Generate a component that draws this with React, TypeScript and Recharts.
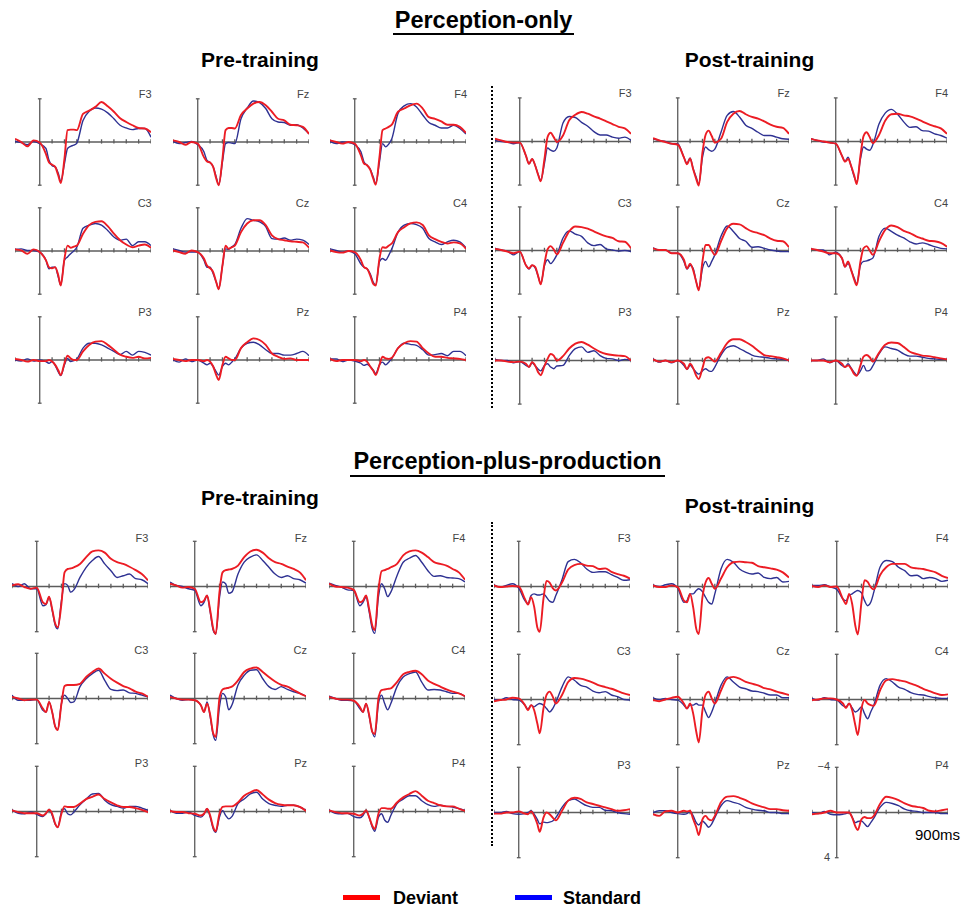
import { LineChart, Line, XAxis, YAxis, ReferenceLine } from 'recharts';

// sample times (ms) shared by every waveform
const TIMES = [-200, -150, -100, -50, 0, 50, 75, 100, 125, 150, 170, 200, 225, 250, 275, 300, 350, 400, 450, 500, 550, 600, 650, 700, 750, 800, 850, 900];
const ELECTRODES = ['F3', 'Fz', 'F4', 'C3', 'Cz', 'C4', 'P3', 'Pz', 'P4'];
const AXIS_TICKS = [-200, 100, 200, 300, 400, 500, 600, 700, 800, 900];

// amplitudes in µV (negative plotted up), one row per electrode in ELECTRODES order
// Perception-only, pre-training
const PO_PRE_DEVIANT = [
  [-0.3, 0, 0.4, -0.15, 0.05, 1.1, 1.9, 2.1, 2.3, 3.1, 3.8, 1.55, -1.1, -1.15, -1.15, -1.1, -2.6, -2.9, -3.25, -3.7, -3.3, -2.8, -2.2, -1.85, -1.55, -1.3, -1.25, -0.9],
  [-0.15, 0, 0.25, 0, 0.15, 1.4, 1.8, 1.9, 2.3, 3.4, 4.0, 1.55, -1.1, -1.3, -1.3, -1.25, -2.5, -3.1, -3.55, -3.7, -3.4, -2.8, -2.15, -2.0, -1.6, -1.55, -1.4, -0.75],
  [-0.15, 0, 0.15, 0, 0.15, 1.25, 2.0, 2.15, 2.55, 3.4, 3.95, 1.4, -1.1, -1.25, -1.4, -1.6, -2.8, -3.1, -3.4, -3.55, -3.1, -2.3, -2.15, -1.9, -1.6, -1.6, -1.4, -0.85],
  [-0.15, -0.05, 0.25, -0.15, 0.1, 0.85, 1.5, 1.6, 1.5, 2.25, 3.2, 0.7, -0.5, -0.3, -0.4, -0.5, -1.6, -2.4, -2.7, -2.75, -2.3, -1.6, -1.0, -0.6, -0.35, -0.5, -0.6, -0.3],
  [-0.05, 0.1, 0.25, -0.05, 0.1, 0.7, 1.35, 1.6, 1.95, 2.9, 3.55, 1.35, -0.5, -0.2, -0.35, -0.5, -1.75, -2.55, -2.85, -2.85, -2.4, -1.45, -1.1, -1.0, -0.9, -0.85, -0.8, -0.3],
  [-0.05, 0.1, 0.15, 0, 0.1, 0.85, 1.5, 1.65, 2.25, 3.05, 3.2, 0.7, -0.35, -0.3, -0.5, -0.7, -1.75, -2.2, -2.55, -2.65, -2.4, -1.45, -1.1, -0.85, -0.7, -0.8, -0.7, -0.2],
  [-0.1, 0, 0.15, 0, 0.1, 0.1, 0, 0.15, 0.45, 0.95, 1.4, 0.3, -0.4, -0.15, 0, 0, -0.8, -1.4, -1.7, -1.75, -1.4, -0.95, -0.5, -0.3, -0.2, -0.3, -0.15, -0.2],
  [-0.1, 0, 0.1, 0, 0, 0.1, 0, 0.15, 0.6, 1.4, 1.85, 0.45, -0.3, -0.15, 0, 0, -1.1, -1.65, -2.0, -1.85, -1.4, -0.6, -0.3, -0.1, -0.15, 0, 0, 0],
  [-0.1, 0.1, 0, 0, 0, 0.1, 0, 0.15, 0.6, 1.0, 1.4, 0.45, -0.3, -0.15, -0.1, -0.2, -1.1, -1.55, -1.75, -1.7, -1.1, -0.6, -0.3, -0.3, -0.2, -0.15, -0.1, 0],
];
const PO_PRE_STANDARD = [
  [-0.05, 0.05, 0.25, -0.05, 0.15, 0.6, 1.7, 2.2, 2.3, 2.9, 3.65, 2.0, 0.6, 0.4, 0.3, 0.1, -2.0, -2.85, -3.15, -3.05, -2.7, -2.15, -1.55, -1.3, -1.15, -1.25, -1.25, -0.45],
  [-0.05, 0.15, 0.05, -0.05, 0.25, 0.9, 1.7, 1.9, 2.3, 3.25, 3.95, 1.85, 0.15, 0.05, 0.1, 0.15, -2.15, -3.15, -3.8, -3.65, -3.1, -2.15, -1.85, -1.8, -1.55, -1.6, -1.3, -0.75],
  [-0.05, 0.15, 0, 0.05, 0.25, 0.9, 1.85, 2.15, 2.5, 3.25, 3.85, 1.85, 0.15, 0.45, 0.2, -0.3, -2.65, -3.35, -3.55, -3.25, -2.5, -1.8, -1.55, -1.3, -1.3, -1.55, -1.25, -0.75],
  [-0.15, -0.2, -0.05, -0.05, 0.1, 0.85, 1.65, 1.5, 1.5, 2.4, 3.15, 0.85, 0.55, 0.25, 0, -0.35, -2.1, -2.4, -2.55, -2.4, -1.9, -1.3, -1.0, -1.1, -0.5, -0.85, -0.85, -0.5],
  [-0.2, -0.05, 0.1, 0.1, 0.1, 0.85, 1.5, 1.5, 2.1, 2.9, 3.5, 1.35, -0.2, -0.15, -0.4, -0.6, -2.1, -3.0, -2.85, -2.7, -2.25, -1.15, -1.1, -1.2, -1.0, -1.1, -1.0, -0.6],
  [-0.2, -0.05, 0.1, 0, 0.25, 1.2, 1.5, 1.65, 2.1, 2.9, 3.15, 1.0, 0.7, 0.85, 0.4, -0.2, -1.75, -2.4, -2.55, -2.45, -2.1, -1.15, -0.85, -0.6, -0.85, -1.0, -0.85, -0.3],
  [0, 0.1, -0.1, 0.1, 0, 0.15, 0.3, 0.15, 0.5, 1.1, 1.45, 0.45, -0.15, 0.15, 0.05, -0.1, -1.1, -1.55, -1.55, -1.4, -1.1, -0.8, -0.5, -0.8, -0.45, -0.8, -0.7, -0.45],
  [0, 0.2, -0.1, 0.15, 0, 0.3, 0.45, 0.3, 0.6, 1.1, 1.4, 0.6, 0.3, 0.45, 0.2, -0.1, -1.1, -1.55, -1.65, -1.4, -0.95, -0.6, -0.6, -0.45, -0.45, -0.6, -0.8, -0.4],
  [-0.1, -0.1, 0.15, 0, 0.1, 0.3, 0.5, 0.4, 0.6, 0.95, 1.25, 0.45, 0.2, 0.45, 0.2, -0.15, -1.1, -1.55, -1.45, -1.35, -0.95, -0.45, -0.5, -0.6, -0.4, -0.8, -0.8, -0.4],
];

// Perception-only, post-training
const PO_POST_DEVIANT = [
  [-0.25, -0.1, 0.05, 0.1, 0.1, 1.3, 2.05, 1.6, 2.2, 3.1, 3.65, 1.6, -0.4, -0.8, -0.4, 0.05, -0.55, -1.95, -2.45, -2.7, -2.55, -2.3, -2.1, -1.85, -1.6, -1.35, -1.2, -0.7],
  [-0.3, -0.1, 0.05, 0.2, 0.3, 1.45, 2.1, 1.55, 2.55, 3.45, 4.05, 1.0, -0.6, -1.0, -0.5, 0.1, -0.25, -1.8, -2.55, -2.8, -2.5, -2.25, -2.1, -1.85, -1.55, -1.35, -1.25, -0.7],
  [-0.25, -0.1, 0, 0.1, 0.2, 1.3, 1.85, 1.6, 2.25, 3.15, 3.9, 1.3, -0.5, -0.85, -0.4, 0.15, -0.6, -1.9, -2.5, -2.55, -2.4, -2.3, -2.1, -1.85, -1.6, -1.4, -1.2, -0.7],
  [-0.15, -0.05, 0.1, 0.25, 0.1, 1.35, 1.65, 1.35, 1.5, 2.4, 3.1, 1.2, -0.1, -0.4, -0.1, 0.35, -0.7, -1.75, -2.2, -2.15, -2.0, -1.75, -1.5, -1.3, -1.15, -0.85, -0.8, -0.2],
  [-0.2, -0.05, -0.05, 0.25, 0.25, 0.85, 1.65, 1.2, 1.8, 2.9, 3.65, 1.0, -0.5, -0.5, 0, 0.4, -0.85, -2.05, -2.45, -2.4, -2.05, -1.75, -1.6, -1.4, -1.1, -0.9, -0.85, -0.3],
  [-0.15, -0.05, 0.1, 0.25, 0.25, 0.7, 1.5, 1.0, 1.8, 2.7, 3.2, 1.0, -0.2, -0.4, 0, 0.4, -0.85, -1.9, -2.3, -2.15, -1.8, -1.6, -1.3, -1.1, -0.9, -0.85, -0.7, -0.35],
  [0, 0, 0.1, 0.15, 0.1, 0.3, 0.6, 0.15, 0.45, 1.1, 1.35, 0.5, -0.15, -0.6, -0.45, 0, -0.4, -1.1, -1.55, -1.7, -1.45, -1.1, -0.8, -0.6, -0.5, -0.45, -0.4, 0],
  [-0.1, 0.1, 0, 0.15, 0, 0.3, 0.8, 0.3, 0.7, 1.4, 1.7, 0.7, -0.2, -0.3, -0.1, 0.1, -0.7, -1.6, -1.95, -1.95, -1.7, -1.35, -0.9, -0.5, -0.4, -0.3, -0.2, 0],
  [0, 0, 0, 0.15, 0, 0.3, 0.6, 0.45, 0.75, 1.25, 1.4, 0.45, -0.35, -0.5, -0.3, 0.1, -0.7, -1.45, -1.65, -1.6, -1.25, -0.8, -0.6, -0.45, -0.4, -0.3, -0.2, -0.1],
];
const PO_POST_STANDARD = [
  [-0.1, 0, 0.05, 0.2, 0.1, 1.3, 2.05, 1.6, 2.2, 3.05, 3.55, 2.0, 0.6, 0.8, 0.9, 0.6, -1.7, -2.3, -2.2, -1.75, -1.4, -0.9, -0.6, -0.6, -0.4, -0.3, -0.4, -0.1],
  [-0.25, -0.1, 0, 0.2, 0.2, 1.45, 2.0, 1.5, 2.5, 3.3, 3.9, 1.45, 0.5, 0.75, 0.9, 0.7, -0.85, -2.4, -2.75, -2.25, -1.5, -1.2, -0.85, -0.55, -0.55, -0.4, -0.25, -0.2],
  [-0.25, -0.1, 0.05, 0.1, 0.2, 1.3, 1.8, 1.45, 2.3, 3.25, 3.7, 1.6, 0.5, 0.7, 0.8, 0.3, -1.6, -2.6, -2.95, -2.5, -1.8, -1.3, -1.35, -1.0, -0.95, -0.7, -0.55, -0.3],
  [-0.2, -0.05, 0.05, 0.4, 0.1, 1.35, 1.7, 1.35, 1.6, 2.4, 3.05, 1.4, 0.85, 1.2, 0.9, 0.4, -1.15, -1.8, -1.5, -1.3, -0.7, -0.45, -0.55, -0.15, -0.05, 0.05, 0, 0.1],
  [-0.25, -0.05, -0.05, 0.25, 0.25, 1.0, 1.7, 1.35, 1.65, 2.9, 3.55, 1.65, 1.0, 1.5, 1.0, 0.4, -1.3, -2.25, -1.75, -1.1, -0.85, -0.3, -0.35, -0.2, -0.05, 0.05, 0.1, 0.1],
  [-0.15, -0.05, -0.05, 0.4, 0.15, 0.7, 1.5, 1.2, 1.8, 2.55, 3.05, 1.35, 1.0, 0.95, 0.85, 0.7, -1.3, -2.05, -1.75, -1.4, -1.15, -0.8, -0.6, -0.7, -0.55, -0.35, -0.2, -0.15],
  [-0.1, 0, 0, 0.2, 0.1, 0.45, 0.6, 0.2, 0.5, 0.8, 0.95, 0.45, 0.3, 0.6, 0.75, 0.5, 0.45, -0.45, -1.1, -1.25, -0.75, -0.9, -0.45, -0.2, -0.15, 0, -0.1, 0],
  [-0.15, 0.15, 0, 0.2, 0, 0.45, 0.8, 0.45, 0.75, 1.1, 1.25, 0.95, 0.75, 0.95, 1.0, 0.6, -0.5, -1.2, -1.35, -1.1, -0.8, -0.5, -0.35, -0.3, -0.2, -0.15, -0.1, 0],
  [0, 0, -0.15, 0.2, 0, 0.45, 0.6, 0.3, 0.7, 1.1, 1.35, 0.95, 0.45, 0.95, 0.9, 0.5, -0.6, -1.25, -1.1, -0.95, -0.6, -0.4, -0.4, -0.3, -0.2, -0.15, -0.1, -0.1],
];

// Perception-plus-production, pre-training
const PPP_PRE_DEVIANT = [
  [-0.1, -0.2, 0.05, 0.2, 0.1, 1.4, 1.55, 0.9, 2.0, 3.3, 3.6, 1.5, -1.25, -1.55, -1.6, -1.7, -2.0, -2.6, -3.1, -3.2, -3.0, -2.45, -2.15, -2.0, -1.75, -1.45, -1.1, -0.55],
  [-0.25, -0.1, 0.1, 0.05, 0.2, 1.4, 1.25, 0.8, 2.1, 3.75, 4.2, 0.5, -1.25, -1.45, -1.5, -1.55, -1.85, -2.6, -3.1, -3.25, -3.0, -2.5, -2.15, -2.0, -1.75, -1.55, -1.25, -0.55],
  [-0.25, 0, 0.05, 0.1, 0.3, 1.4, 1.25, 0.8, 2.0, 3.45, 3.85, 0.3, -1.35, -1.45, -1.55, -1.7, -2.0, -2.75, -3.1, -3.2, -3.0, -2.6, -2.15, -2.0, -1.85, -1.55, -1.25, -0.6],
  [-0.15, 0, 0.15, 0.1, 0.1, 0.9, 1.2, 0.3, 1.2, 2.5, 2.8, 0.45, -1.1, -1.2, -1.2, -1.2, -1.3, -1.9, -2.35, -2.65, -2.2, -1.75, -1.4, -1.1, -0.9, -0.6, -0.45, -0.15],
  [-0.15, 0, 0.1, 0.1, 0.15, 0.6, 1.2, 0.45, 1.45, 3.1, 3.4, 0, -0.8, -0.9, -0.95, -1.05, -1.6, -2.35, -2.65, -2.75, -2.35, -1.9, -1.5, -1.2, -1.05, -0.75, -0.45, -0.2],
  [-0.15, 0, 0.1, 0.1, 0.2, 0.75, 1.2, 0.45, 1.45, 2.95, 3.15, 0, -0.75, -0.8, -0.85, -0.9, -1.45, -2.15, -2.35, -2.45, -2.15, -1.6, -1.3, -1.05, -0.8, -0.6, -0.45, -0.2],
  [-0.1, 0.05, 0.15, 0.15, 0.15, 0.35, 0.15, -0.15, 0.2, 1.1, 1.4, 0.2, -0.45, -0.4, -0.4, -0.4, -0.7, -1.1, -1.3, -1.5, -1.1, -0.8, -0.55, -0.4, -0.4, -0.3, -0.15, 0.05],
  [-0.05, 0.05, 0.05, 0.15, 0.2, 0.35, 0.2, -0.25, 0.35, 1.4, 1.75, 0.2, -0.4, -0.45, -0.45, -0.45, -0.8, -1.4, -1.7, -1.9, -1.5, -1.05, -0.75, -0.6, -0.55, -0.55, -0.4, -0.05],
  [-0.1, 0.05, 0.15, 0.15, 0.2, 0.35, 0.2, -0.1, 0.5, 1.25, 1.55, 0.2, -0.3, -0.3, -0.25, -0.25, -0.8, -1.25, -1.55, -1.8, -1.4, -0.95, -0.75, -0.55, -0.45, -0.45, -0.25, -0.05],
];
const PPP_PRE_STANDARD = [
  [-0.25, 0, -0.25, 0.2, 0.2, 1.7, 1.6, 0.95, 2.1, 3.45, 3.75, 1.25, -0.25, -0.1, 0.5, 0.3, -0.8, -1.7, -2.3, -2.65, -2.0, -1.4, -0.8, -0.95, -1.1, -0.7, -0.6, -0.25],
  [-0.4, -0.1, 0, 0.2, 0.35, 1.7, 1.4, 0.8, 2.25, 3.9, 4.2, 1.0, -0.4, -0.25, 0.6, 0.5, -1.1, -2.15, -2.6, -2.8, -2.3, -1.7, -1.1, -0.8, -0.95, -0.7, -0.6, -0.3],
  [-0.3, -0.1, 0.05, 0.3, 0.35, 1.7, 1.4, 0.95, 2.25, 3.75, 4.15, 0.9, -0.25, 0.2, 0.9, 0.5, -0.95, -2.15, -2.5, -2.75, -2.15, -1.4, -0.9, -0.95, -0.8, -0.75, -0.7, -0.4],
  [-0.3, 0.15, 0.15, 0.15, 0.1, 1.05, 1.2, 0.3, 1.2, 2.5, 2.75, 0.45, -0.3, 0, 0.35, 0.3, -1.05, -1.75, -2.2, -2.5, -1.6, -0.8, -0.7, -0.75, -0.5, -0.45, -0.3, -0.15],
  [-0.3, 0, 0.15, 0.1, 0.15, 0.6, 1.2, 0.3, 1.6, 3.25, 3.7, 0.75, -0.45, -0.15, 1.0, 0.6, -1.2, -2.05, -2.5, -2.55, -1.75, -1.05, -0.8, -1.05, -0.8, -0.6, -0.45, -0.2],
  [-0.2, 0, 0.15, 0.15, 0.2, 0.9, 1.2, 0.45, 1.6, 2.95, 3.4, 0.45, -0.3, 0.45, 1.0, 0.45, -1.05, -1.9, -2.2, -2.35, -1.45, -0.75, -0.8, -0.75, -0.6, -0.45, -0.45, -0.15],
  [-0.15, 0.15, 0.2, 0.05, 0.25, 0.45, 0.2, -0.15, 0.35, 1.15, 1.4, 0.05, -0.25, 0.2, 0.3, 0.05, -0.6, -1.1, -1.55, -1.6, -1.0, -0.6, -0.45, -0.3, -0.45, -0.45, -0.3, -0.1],
  [-0.1, 0.15, 0.15, 0.05, 0.35, 0.5, 0.25, -0.25, 0.5, 1.55, 1.85, 0.5, -0.1, 0.35, 0.65, 0.45, -0.7, -1.1, -1.55, -1.7, -1.1, -0.7, -0.55, -0.45, -0.55, -0.55, -0.4, -0.1],
  [-0.15, 0.15, 0.2, 0.15, 0.45, 0.55, 0.35, -0.1, 0.5, 1.4, 1.75, 0.5, 0.2, 0.75, 0.95, 0.35, -0.7, -1.1, -1.4, -1.4, -0.95, -0.6, -0.45, -0.55, -0.45, -0.4, -0.25, -0.1],
];

// Perception-plus-production, post-training
const PPP_POST_DEVIANT = [
  [-0.1, 0.05, 0, -0.05, 0, 1.1, 1.6, 0.95, 1.8, 3.6, 4.0, 1.1, -0.5, -0.35, 0.15, 0.35, -0.35, -1.5, -1.9, -2.0, -1.85, -1.8, -1.55, -1.6, -1.3, -1.1, -0.95, -0.7],
  [-0.1, 0.05, 0.05, -0.1, 0.05, 1.25, 1.4, 0.65, 1.85, 3.75, 4.2, 0.95, -0.35, -0.75, -0.25, 0.2, -0.7, -1.7, -2.15, -2.2, -2.15, -2.1, -1.8, -1.7, -1.6, -1.5, -1.25, -0.8],
  [-0.05, 0.05, -0.1, 0.05, 0, 1.1, 1.55, 0.65, 1.55, 3.45, 4.25, 1.4, -0.55, -0.4, 0.05, 0.25, -1.0, -1.7, -2.0, -2.0, -2.0, -1.7, -1.6, -1.55, -1.4, -1.25, -0.95, -0.75],
  [0.15, 0.05, 0, -0.15, -0.1, 0.5, 0.95, 0.5, 0.95, 2.1, 3.0, 0.8, -0.4, -0.7, -0.25, 0.35, -0.4, -1.55, -1.9, -1.85, -1.7, -1.5, -1.25, -1.1, -0.95, -0.75, -0.55, -0.4],
  [0.05, 0.15, 0, -0.15, -0.25, 0.35, 0.8, 0.35, 1.25, 2.85, 3.8, 0.95, -0.4, -0.7, -0.1, 0.35, -0.8, -1.85, -2.0, -1.85, -1.55, -1.4, -1.25, -1.0, -0.9, -0.7, -0.55, -0.4],
  [0.05, 0, -0.1, -0.1, 0, 0.35, 0.75, 0.35, 0.95, 2.25, 3.15, 0.8, 0.05, 0.35, 0.5, 0.55, -0.8, -1.7, -1.8, -1.7, -1.6, -1.4, -1.2, -0.95, -0.75, -0.55, -0.4, -0.45],
  [0.1, 0.1, 0, 0, -0.1, 0.1, 0.15, -0.1, 0.3, 1.0, 1.7, 0.45, 0, 0.15, 0.45, 0.7, -0.15, -1.05, -1.3, -1.2, -0.9, -0.75, -0.6, -0.45, -0.3, -0.15, -0.2, -0.3],
  [0.15, 0.3, -0.1, -0.15, 0, -0.15, -0.1, -0.15, 0.6, 1.3, 2.0, 0.6, 0.3, 0.6, 0.7, 0.3, -0.9, -1.4, -1.45, -1.3, -1.1, -0.8, -0.6, -0.45, -0.3, -0.3, -0.2, -0.15],
  [0.15, 0.1, 0, -0.15, 0, 0, 0, 0, 0.45, 1.2, 1.55, 0.6, 0.4, 0.5, 0.5, 0.3, -0.75, -1.4, -1.3, -1.1, -0.8, -0.6, -0.5, -0.4, -0.15, -0.1, -0.2, -0.3],
];
const PPP_POST_STANDARD = [
  [-0.15, 0.05, -0.1, -0.25, 0.15, 1.25, 1.5, 0.8, 0.65, 0.75, 0.75, 0.65, 0.95, 1.3, 1.4, 0.8, -0.6, -2.2, -2.4, -2.1, -1.55, -1.25, -1.3, -1.3, -1.05, -0.8, -0.55, -0.6],
  [-0.15, 0, -0.15, -0.25, 0.15, 1.4, 1.25, 0.65, 0.65, 0.35, 0.2, 0.45, 0.95, 1.4, 1.55, 0.65, -1.55, -2.4, -2.15, -1.55, -1.25, -1.1, -1.2, -0.8, -0.7, -0.8, -0.4, -0.45],
  [-0.1, -0.1, -0.15, 0.05, 0.25, 1.1, 1.25, 0.8, 0.65, 0.45, 0.35, 0.55, 1.25, 1.7, 1.4, 0.5, -1.7, -2.3, -2.2, -1.7, -1.4, -0.95, -1.0, -0.7, -0.8, -0.7, -0.45, -0.55],
  [0, 0.05, -0.15, 0, 0.05, 0.5, 0.85, 0.5, 0.65, 0.45, 0.35, 0.5, 0.8, 1.1, 0.8, 0.25, -1.1, -2.0, -1.7, -1.25, -1.1, -0.75, -0.6, -0.7, -0.4, -0.25, 0, 0.05],
  [-0.15, 0, -0.1, 0, 0.05, 0.5, 0.8, 0.5, 0.5, 0.35, 0.5, 0.5, 1.1, 1.6, 1.1, 0.35, -1.25, -2.0, -1.55, -1.1, -0.95, -0.75, -0.7, -0.55, -0.4, -0.4, -0.15, -0.15],
  [-0.1, 0.05, -0.15, 0, 0.05, 0.55, 0.65, 0.35, 0.75, 1.1, 1.0, 0.65, 1.25, 1.7, 1.1, 0.5, -1.25, -1.85, -1.55, -1.1, -0.9, -0.6, -0.45, -0.4, -0.25, -0.15, -0.1, -0.1],
  [0, 0, -0.1, 0.1, 0.15, 0.1, 0, -0.15, 0.15, 0.6, 1.0, 0.85, 0.9, 0.85, 0.75, 0.45, -0.45, -1.05, -1.2, -0.9, -0.6, -0.45, -0.45, -0.2, -0.15, 0, 0.1, 0.15],
  [0, -0.15, -0.15, 0, 0.1, 0.15, 0.1, -0.1, 0.3, 0.9, 1.1, 0.75, 1.0, 1.3, 1.0, 0.45, -0.6, -1.05, -0.9, -0.75, -0.45, -0.3, -0.2, -0.15, 0, 0, 0.1, 0.1],
  [0, 0.1, -0.1, 0.15, 0.2, 0.15, 0.1, 0, 0.4, 0.9, 0.8, 0.75, 1.0, 1.25, 0.9, 0.5, -0.45, -0.9, -0.8, -0.6, -0.3, -0.15, -0.1, 0, 0, 0, 0.1, 0.1],
];

const RED = '#ec1c24';
const NAVY = '#2e3192';
const AXIS = '#5c5c5c';
const FONT = '"Liberation Sans", Arial, Helvetica, sans-serif';

const PX_PER_MS = 0.1233;
const PANEL_W = Math.round(1100 * PX_PER_MS);
const Y_LIM = 5;

// layout of each 3x3 block: x of the 0 ms axis per column, y of the 0 µV line per row
const GROUPS = [
  { key: 'po-pre', cols: [39.7, 197.3, 355], rows: [141.7, 250.7, 360], pxPerUv: 10.75, dev: PO_PRE_DEVIANT, std: PO_PRE_STANDARD },
  { key: 'po-post', cols: [519.7, 677.7, 836], rows: [141.3, 250.7, 360], pxPerUv: 10.9, dev: PO_POST_DEVIANT, std: PO_POST_STANDARD },
  { key: 'ppp-pre', cols: [36.3, 195, 353.3], rows: [586, 698.3, 811], pxPerUv: 11.3, dev: PPP_PRE_DEVIANT, std: PPP_PRE_STANDARD },
  { key: 'ppp-post', cols: [518.7, 677.7, 836.7], rows: [586, 699.3, 812.7], pxPerUv: 11.3, dev: PPP_POST_DEVIANT, std: PPP_POST_STANDARD },
];

interface PanelProps {
  x0: number;
  y0: number;
  pxPerUv: number;
  dev: number[];
  std: number[];
  label: string;
}

function ErpPanel({ x0, y0, pxPerUv, dev, std, label }: PanelProps) {
  const h = Math.round(2 * Y_LIM * pxPerUv);
  const data = TIMES.map((t, i) => ({ t, dev: dev[i], std: std[i] }));
  const axisProps = { stroke: AXIS, strokeWidth: 1.3 };

  return (
    <>
      <div style={{ position: 'absolute', left: x0 - 200 * PX_PER_MS, top: y0 - h / 2 }}>
        <LineChart width={PANEL_W} height={h} data={data} margin={{ top: 0, right: 0, bottom: 0, left: 0 }}>
          <XAxis type="number" dataKey="t" domain={[-200, 900]} allowDataOverflow hide />
          <YAxis type="number" domain={[-Y_LIM, Y_LIM]} allowDataOverflow reversed hide />
          <ReferenceLine y={0} {...axisProps} />
          <ReferenceLine segment={[{ x: 0, y: -4 }, { x: 0, y: 4 }]} {...axisProps} />
          <ReferenceLine segment={[{ x: -15, y: -4 }, { x: 15, y: -4 }]} {...axisProps} />
          <ReferenceLine segment={[{ x: -15, y: 4 }, { x: 15, y: 4 }]} {...axisProps} />
          {AXIS_TICKS.map((t) => (
            <ReferenceLine key={t} segment={[{ x: t, y: -0.25 }, { x: t, y: 0.15 }]} {...axisProps} />
          ))}
          <Line type="monotone" dataKey="std" stroke={NAVY} strokeWidth={1.4} dot={false} isAnimationActive={false} />
          <Line type="monotone" dataKey="dev" stroke={RED} strokeWidth={1.9} dot={false} isAnimationActive={false} />
        </LineChart>
      </div>
      <div
        style={{
          position: 'absolute',
          left: x0 + 72,
          width: 40,
          top: y0 - 54,
          textAlign: 'right',
          fontSize: 11,
          color: '#444',
          fontFamily: FONT,
        }}
      >
        {label}
      </div>
    </>
  );
}

function Title({ text, cx, top, size, underline }: { text: string; cx: number; top: number; size: number; underline?: [number, number, number] }) {
  return (
    <>
      <div
        style={{
          position: 'absolute',
          left: cx - 250,
          width: 500,
          top,
          textAlign: 'center',
          fontSize: size,
          lineHeight: 1,
          fontWeight: 700,
          fontFamily: FONT,
          color: '#000',
        }}
      >
        {text}
      </div>
      {underline && (
        <div
          style={{
            position: 'absolute',
            left: underline[0],
            width: underline[1] - underline[0],
            top: underline[2],
            height: 2.5,
            background: '#000',
          }}
        />
      )}
    </>
  );
}

const legendText = { position: 'absolute' as const, top: 891, fontSize: 18, lineHeight: '14px', fontWeight: 700, fontFamily: FONT };

export default function App() {
  return (
    <div style={{ position: 'absolute', left: 0, top: 0, width: 961, height: 907, background: '#fff' }}>
      <Title text="Perception-only" cx={483.5} top={8.5} size={23.5} underline={[393, 574, 32.7]} />
      <Title text="Pre-training" cx={260} top={48.5} size={21} />
      <Title text="Post-training" cx={749.5} top={48.5} size={21} />
      <Title text="Perception-plus-production" cx={507.5} top={449.5} size={23.5} underline={[350, 665, 474.5]} />
      <Title text="Pre-training" cx={260} top={486.5} size={21} />
      <Title text="Post-training" cx={749.5} top={494.5} size={21} />

      {/* dotted separators between pre and post blocks */}
      <div style={{ position: 'absolute', left: 491, top: 86, height: 322, borderLeft: '2px dotted #000' }} />
      <div style={{ position: 'absolute', left: 491, top: 522, height: 324, borderLeft: '2px dotted #000' }} />

      {GROUPS.map((g) =>
        ELECTRODES.map((el, i) => (
          <ErpPanel
            key={`${g.key}-${el}`}
            x0={g.cols[i % 3]}
            y0={g.rows[Math.floor(i / 3)]}
            pxPerUv={g.pxPerUv}
            dev={g.dev[i]}
            std={g.std[i]}
            label={el}
          />
        )),
      )}

      {/* scale annotation on the last panel */}
      <div style={{ position: 'absolute', left: 806, width: 24, top: 760, textAlign: 'right', fontSize: 11, color: '#444', fontFamily: FONT }}>−4</div>
      <div style={{ position: 'absolute', left: 806, width: 24, top: 851, textAlign: 'right', fontSize: 11, color: '#444', fontFamily: FONT }}>4</div>
      <div style={{ position: 'absolute', left: 915, top: 826, fontSize: 15, color: '#000', fontFamily: FONT }}>900ms</div>

      {/* legend */}
      <div style={{ position: 'absolute', left: 343, top: 894.5, width: 37, height: 5.5, background: '#ff0000' }} />
      <div style={{ ...legendText, left: 393 }}>Deviant</div>
      <div style={{ position: 'absolute', left: 515, top: 894.5, width: 37, height: 5.5, background: '#0000ff' }} />
      <div style={{ ...legendText, left: 563 }}>Standard</div>
    </div>
  );
}
